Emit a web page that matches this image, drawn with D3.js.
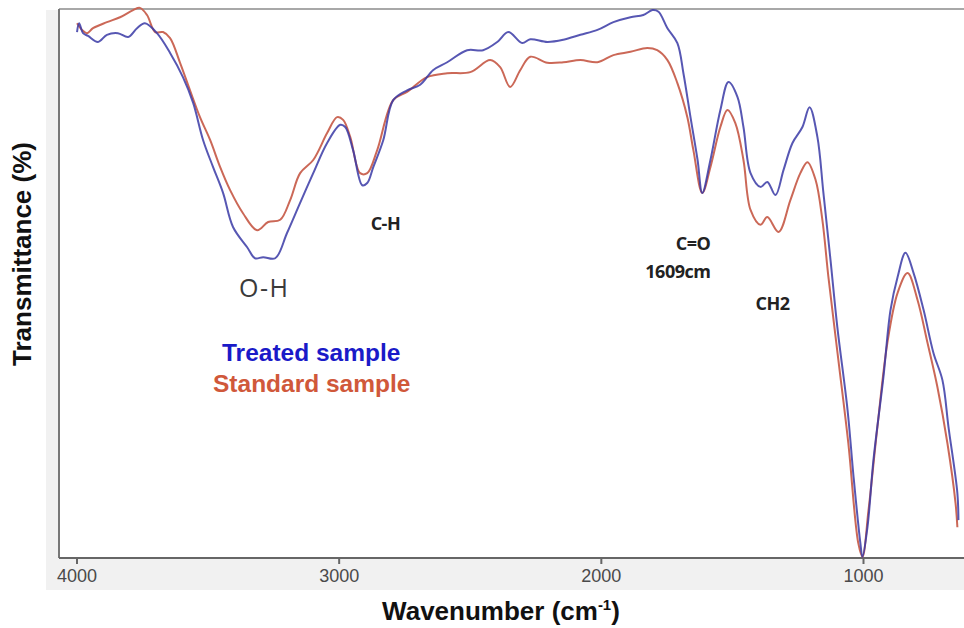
<!DOCTYPE html>
<html>
<head>
<meta charset="utf-8">
<script src="https://cdn.jsdelivr.net/npm/d3@7"></script>
<style>
  html, body { margin: 0; padding: 0; background: #ffffff; }
  svg { display: block; }
</style>
</head>
<body>
<svg id="chart" width="964" height="628"></svg>
<script>
// ---- Data (wavenumber in cm-1, transmittance in relative %) ----
const treatedWn = [3998,3990,3975,3956,3918,3884,3842,3803,3769,3739,3693,3643,3594,3555,3517,3479,3441,3403,3349,3319,3288,3242,3197,3147,3097,3044,2994,2975,2945,2910,2891,2868,2830,2792,2739,2689,2639,2586,2510,2449,2395,2353,2300,2269,2204,2143,2078,2013,1952,1887,1838,1803,1780,1746,1708,1685,1658,1631,1613,1582,1544,1513,1479,1456,1429,1391,1365,1334,1303,1269,1231,1204,1174,1151,1124,1098,1059,1036,1010,1002,983,960,922,895,868,838,807,769,731,697,674,640,636];
const treatedT  = [95.8,97.4,95.6,95.1,94.0,95.3,95.6,94.9,96.5,97.4,95.6,92.0,87.6,82.9,76.1,71.2,66.5,60.3,56.6,54.6,54.8,54.6,59.2,64.7,70.1,75.6,78.9,78.5,74.3,67.9,68.3,71.2,76.1,83.4,85.2,86.2,88.9,90.3,92.5,92.5,94.0,95.8,93.8,94.5,94.0,94.4,95.3,96.2,97.6,98.5,98.9,99.8,99.5,96.5,93.8,88.3,80.3,72.5,66.5,72.5,81.6,86.7,84.0,78.5,70.1,67.6,68.5,66.1,70.7,75.6,78.5,82.1,76.7,66.5,54.3,42.1,27.0,14.8,2.7,0.2,5.6,17.9,33.0,45.2,51.2,55.6,51.9,45.2,37.3,32.4,23.9,11.8,6.9];

const standardWn = [3998,3979,3960,3937,3884,3834,3784,3758,3731,3700,3670,3643,3605,3567,3529,3490,3452,3414,3365,3311,3269,3223,3185,3147,3097,3044,3006,2983,2956,2918,2891,2853,2792,2739,2663,2586,2498,2422,2384,2346,2307,2269,2204,2143,2078,2013,1952,1887,1823,1785,1746,1708,1670,1647,1613,1582,1544,1517,1487,1456,1429,1391,1365,1322,1277,1239,1212,1181,1155,1132,1094,1056,1018,1002,979,945,907,868,830,792,754,716,678,647,640];
const standardT  = [97.4,96.2,95.6,96.5,97.6,98.5,99.8,100.2,98.9,95.8,95.8,94.7,90.2,85.2,80.3,76.1,71.2,67.0,62.8,59.7,61.2,61.6,65.2,70.1,72.5,77.4,80.3,79.8,76.7,70.1,70.1,74.3,83.4,84.9,87.6,88.3,88.5,90.7,89.4,85.8,88.9,91.3,90.2,90.3,90.7,90.3,91.6,92.2,92.9,92.5,90.7,86.5,80.3,74.3,66.5,71.2,78.5,81.6,79.2,72.5,63.4,60.7,62.1,59.4,65.2,70.1,72.1,68.9,61.6,51.2,36.1,20.9,2.7,0.2,8.7,23.9,39.2,48.3,51.9,47.0,39.2,31.1,20.9,10.0,5.6];

const xTicks = [4000, 3000, 2000, 1000];
const seriesNames = ["Treated sample", "Standard sample"];
const annotations = [
  { text: "O-H",    wn: 3380, t: 47.5, cls: "oh" },
  { text: "C-H",    wn: 2878, t: 59.7, cls: "band" },
  { text: "C=O",    wn: 1582, t: 56.1, cls: "band", anchor: "end" },
  { text: "1609cm", wn: 1582, t: 51.0, cls: "band", anchor: "end" },
  { text: "CH2",    wn: 1345, t: 45.2, cls: "band", anchor: "middle" }
];

// ---- Layout ----
const svg = d3.select("#chart");
const plot = { left: 59, right: 964, top: 9, bottom: 558 };

const x = d3.scaleLinear().domain([4000, 1000]).range([76.5, 863]);
const y = d3.scaleLinear().domain([0, 100]).range([plot.bottom, plot.top]);

// light gray background bands around frame
svg.append("rect").attr("x", 46).attr("y", 10).attr("width", plot.left - 46).attr("height", 550).attr("fill", "#f1f1f1");
svg.append("rect").attr("x", 46).attr("y", plot.bottom).attr("width", 964 - 46).attr("height", 32).attr("fill", "#f1f1f1");

// frame
svg.append("line").attr("x1", plot.left).attr("x2", 964).attr("y1", plot.top).attr("y2", plot.top)
  .attr("stroke", "#a8a8a8").attr("stroke-width", 2);
svg.append("line").attr("x1", plot.left).attr("x2", plot.left).attr("y1", plot.top).attr("y2", plot.bottom)
  .attr("stroke", "#777").attr("stroke-width", 2);

// x axis
const xAxis = d3.axisBottom(x).tickValues(xTicks).tickSize(6).tickSizeOuter(0).tickPadding(3).tickFormat(d3.format("d"));
const gx = svg.append("g").attr("transform", `translate(0,${plot.bottom})`).call(xAxis);
gx.select(".domain").attr("d", `M${plot.left},0H964`).attr("stroke", "#666").attr("stroke-width", 2.2);
gx.selectAll(".tick line").attr("stroke", "#666").attr("stroke-width", 2);
gx.selectAll(".tick text").attr("fill", "#4a4a4a").attr("font-family", "Liberation Sans Narrow, Liberation Sans, Arial, sans-serif")
  .attr("font-size", 18).attr("dy", "0.85em");

// curves
const line = d3.line().x(d => x(d[0])).y(d => y(d[1])).curve(d3.curveCatmullRom.alpha(0.5));
const standardData = d3.zip(standardWn, standardT);
const treatedData  = d3.zip(treatedWn, treatedT);

svg.append("path").datum(standardData).attr("d", line)
  .attr("fill", "none").attr("stroke", "#c8604e").attr("stroke-width", 2).attr("stroke-opacity", 0.95);
svg.append("path").datum(treatedData).attr("d", line)
  .attr("fill", "none").attr("stroke", "#3a3aa6").attr("stroke-width", 2).attr("stroke-opacity", 0.85);

// annotations
annotations.forEach(a => {
  const t = svg.append("text").attr("x", x(a.wn)).attr("y", y(a.t)).text(a.text)
    .attr("text-anchor", a.anchor || "start");
  if (a.cls === "oh") {
    t.attr("font-family", "Open Sans, sans-serif").attr("font-size", 25).attr("fill", "#3a3a3a")
      .attr("letter-spacing", 1.5);
  } else {
    t.attr("font-family", "Open Sans, sans-serif").attr("font-weight", "bold").attr("font-size", 18)
      .attr("fill", "#222").attr("letter-spacing", -0.5);
  }
});

// legend texts
svg.append("text").attr("x", 222).attr("y", 361).text(seriesNames[0])
  .attr("font-family", "Liberation Sans, Arial, sans-serif").attr("font-weight", "bold")
  .attr("font-size", 24.5).attr("fill", "#1a1ac8");
svg.append("text").attr("x", 213).attr("y", 392).text(seriesNames[1])
  .attr("font-family", "Liberation Sans, Arial, sans-serif").attr("font-weight", "bold")
  .attr("font-size", 24.5).attr("fill", "#d0583a");

// axis titles
const xt = svg.append("text").attr("x", 501).attr("y", 620).attr("text-anchor", "middle")
  .attr("font-family", "Liberation Sans, Arial, sans-serif").attr("font-weight", "bold")
  .attr("font-size", 26).attr("fill", "#111");
xt.append("tspan").text("Wavenumber (cm");
xt.append("tspan").text("-1").attr("font-size", 15).attr("dy", -10);
xt.append("tspan").text(")").attr("dy", 10);

svg.append("text").attr("transform", "translate(31,254) rotate(-90)").attr("text-anchor", "middle")
  .attr("font-family", "Liberation Sans, Arial, sans-serif").attr("font-weight", "bold")
  .attr("font-size", 26).attr("fill", "#111").text("Transmittance (%)");
</script>
</body>
</html>
